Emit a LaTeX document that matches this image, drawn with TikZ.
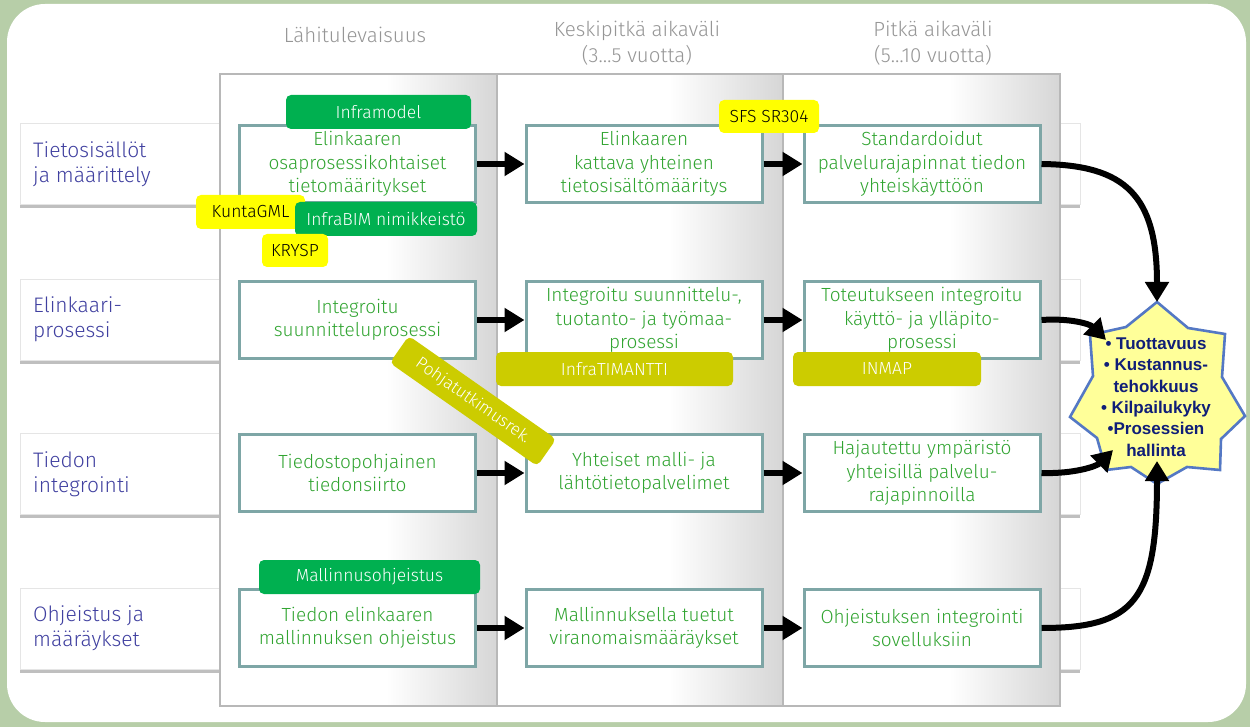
\documentclass[tikz,border=0pt]{standalone}
\usepackage{fontspec}
\setmainfont{Fira Sans Light}
\newfontfamily\goalfont{Liberation Sans}
\usetikzlibrary{shadows,arrows.meta}

\definecolor{framegreen}{RGB}{183,206,168}
\definecolor{rowink}{RGB}{64,64,160}
\definecolor{hdrink}{RGB}{150,150,150}
\definecolor{boxline}{RGB}{126,166,166}
\definecolor{boxink}{RGB}{48,164,48}
\definecolor{taggreen}{RGB}{0,176,80}
\definecolor{tagyellow}{RGB}{255,255,0}
\definecolor{tagolive}{RGB}{204,204,0}
\definecolor{starfill}{RGB}{255,255,153}
\definecolor{starline}{RGB}{84,120,196}
\definecolor{starink}{RGB}{16,30,120}
\definecolor{panelgray}{RGB}{214,214,214}

% column panel: white on the left, fading to grey at the right edge
\pgfdeclarehorizontalshading{panelshade}{100bp}{color(0bp)=(white); color(25bp)=(white); color(55bp)=(white); color(75bp)=(panelgray); color(100bp)=(panelgray)}

\begin{document}
\begin{tikzpicture}[x=1pt,y=-1pt,
  band/.style={draw=black!10, fill=white, line width=0.8pt, inner sep=0pt,
    minimum width=1060pt, minimum height=81pt, anchor=north west,
    drop shadow={shadow xshift=0pt, shadow yshift=-3.5pt, opacity=0.45, fill=black!55}},
  rowlabel/.style={anchor=west, align=left, text=rowink, inner sep=0pt,
    font=\fontsize{21}{25.5}\selectfont},
  header/.style={align=center, text=hdrink, inner sep=0pt,
    font=\fontsize{20.5}{26}\selectfont},
  proc/.style={draw=boxline, line width=3pt, fill=white, text=boxink,
    minimum width=236pt, minimum height=77pt, align=center, inner sep=0pt,
    font=\fontsize{19}{23.5}\selectfont},
  tagbase/.style={rounded corners=5pt, inner sep=0pt, align=center,
    font=\fontsize{17.5}{17.5}\selectfont},
  gtag/.style={tagbase, fill=taggreen, text=white},
  ytag/.style={tagbase, fill=tagyellow, text=black},
  otag/.style={tagbase, fill=tagolive, text=white},
  arr/.style={line width=6pt, -{Triangle[length=20pt,width=23pt]}},
]
\useasboundingbox (0,0) rectangle (1250,727);

% frame
\fill[framegreen] (0,0) rectangle (1250,727);
\fill[white, rounded corners=38pt] (7,4) rectangle (1246,722);

% column headings
\node[header] (h1) at (355,35) {Lähitulevaisuus};
\node[header] (h2) at (637,43) {Keskipitkä aikaväli\\(3…5 vuotta)};
\node[header] (h3) at (933,43) {Pitkä aikaväli\\(5…10 vuotta)};

% row bands
\node[band] (band1) at (20,123) {};
\node[band] (band2) at (20,279) {};
\node[band] (band3) at (20,433) {};
\node[band] (band4) at (20,588) {};

\node[rowlabel] (lab1) at (33,164) {Tietosisällöt\\ja määrittely};
\node[rowlabel] (lab2) at (33,319) {Elinkaari-\\prosessi};
\node[rowlabel] (lab3) at (33,474) {Tiedon\\integrointi};
\node[rowlabel] (lab4) at (33,628) {Ohjeistus ja\\määräykset};

% time-horizon panels
\shadedraw[shading=panelshade, draw=black!28, line width=1.2pt] (220,74) rectangle (497,706);
\shadedraw[shading=panelshade, draw=black!28, line width=1.2pt] (497,74) rectangle (783,706);
\shadedraw[shading=panelshade, draw=black!28, line width=1.2pt] (783,74) rectangle (1060,706);

% process boxes
\node[proc] (a1) at (357.5,164) {Elinkaaren\\osaprosessikohtaiset\\tietomääritykset};
\node[proc] (b1) at (644,164) {Elinkaaren\\kattava yhteinen\\tietosisältömääritys};
\node[proc] (c1) at (922,164) {Standardoidut\\palvelurajapinnat tiedon\\yhteiskäyttöön};

\node[proc] (a2) at (357.5,320) {Integroitu\\suunnitteluprosessi};
\node[proc] (b2) at (644,320) {Integroitu suunnittelu-,\\tuotanto- ja työmaa-\\prosessi};
\node[proc] (c2) at (922,320) {Toteutukseen integroitu\\käyttö- ja ylläpito-\\prosessi};

\node[proc] (a3) at (357.5,473) {Tiedostopohjainen\\tiedonsiirto};
\node[proc] (b3) at (644,473) {Yhteiset malli- ja\\lähtötietopalvelimet};
\node[proc] (c3) at (922,473) {Hajautettu ympäristö\\yhteisillä palvelu-\\rajapinnoilla};

\node[proc] (a4) at (357.5,628) {Tiedon elinkaaren\\mallinnuksen ohjeistus};
\node[proc] (b4) at (644,628) {Mallinnuksella tuetut\\viranomaismääräykset};
\node[proc] (c4) at (922,628) {Ohjeistuksen integrointi\\sovelluksiin};

% arrows between horizons
\foreach \r in {1,2,3,4} {
  \draw[arr] (a\r.east) -- (b\r.west);
  \draw[arr] (b\r.east) -- (c\r.west);
}

% goal star
\draw[fill=starfill, draw=starline, line width=2.6pt, line join=miter]
  (1157,302) -- (1188,328) -- (1225,334) -- (1222,377) -- (1245,416)
  -- (1221,439) -- (1220,470) -- (1187,467) -- (1157,484) -- (1131,467)
  -- (1106,470) -- (1097,438) -- (1070,417) -- (1093,376) -- (1090,335)
  -- (1126,327) -- cycle;
\node[align=center, text=starink, inner sep=0pt,
  font=\goalfont\bfseries\fontsize{17}{21.4}\selectfont] (goal) at (1156,397)
  {• Tuottavuus\\• Kustannus-\\tehokkuus\\• Kilpailukyky\\•Prosessien\\hallinta};

\coordinate (g1) at (1157,302);
\coordinate (g2) at (1106,340);
\coordinate (g3) at (1113,450);
\coordinate (g4) at (1157,461);

\draw[arr] (c1.east) .. controls (1125,165) and (1157,195) .. (g1);
\draw[arr] (c2.east) .. controls (1070,318) and (1090,324) .. (g2);
\draw[arr] (c3.east) .. controls (1075,474) and (1097,466) .. (g3);
\draw[arr] (c4.east) .. controls (1135,628) and (1157,600) .. (g4);

% standard and project tags
\node[gtag, minimum width=185pt, minimum height=34pt] (t1) at (378.5,112) {Inframodel};
\node[ytag, minimum width=109pt, minimum height=34pt] (t2) at (250.5,212) {KuntaGML};
\node[gtag, minimum width=182pt, minimum height=34pt] (t3) at (386,219) {InfraBIM nimikkeistö};
\node[ytag, minimum width=66pt, minimum height=33pt] (t4) at (295,250.5) {KRYSP};
\node[ytag, minimum width=100pt, minimum height=33pt] (t5) at (769,116.5) {SFS SR304};
\node[gtag, minimum width=221pt, minimum height=34pt] (t6) at (369.5,577) {Mallinnusohjeistus};
\node[otag, minimum width=237pt, minimum height=34pt] (t7) at (614.5,369) {InfraTIMANTTI};
\node[otag, minimum width=188pt, minimum height=34pt] (t8) at (887,369) {INMAP};
\node[otag, minimum width=180pt, minimum height=33pt, rotate=-35,
  font=\fontsize{17}{17}\selectfont] (t9) at (473,401) {Pohjatutkimusrek.};

\end{tikzpicture}
\end{document}
